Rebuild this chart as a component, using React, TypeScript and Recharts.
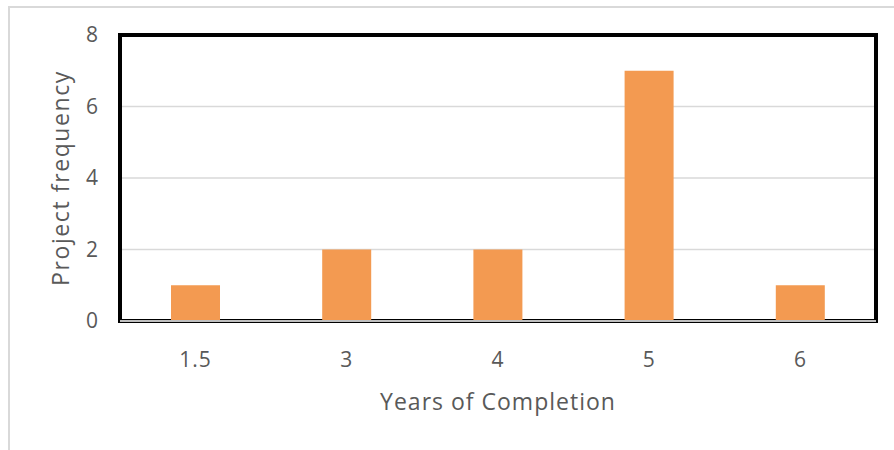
import { BarChart, Bar, XAxis, YAxis, CartesianGrid, ReferenceArea } from 'recharts';

const years = ['1.5', '3', '4', '5', '6'];
const projects = [1, 2, 2, 7, 1];
const yTicks = [0, 2, 4, 6, 8];

const data = years.map((y, i) => ({ year: y, count: projects[i] }));

const FONT = '"Open Sans", Lato, sans-serif';
const TEXT = '#595959';

export default function App() {
  return (
    <div
      style={{
        position: 'absolute',
        left: 0,
        top: 0,
        width: 894,
        height: 450,
        background: '#fff',
        fontFamily: FONT,
      }}
    >
      <div
        style={{
          position: 'absolute',
          left: 8,
          top: 6,
          width: 900,
          height: 460,
          borderLeft: '2px solid #d9d9d9',
          borderTop: '2px solid #d9d9d9',
        }}
      />
      <BarChart
        width={894}
        height={450}
        data={data}
        margin={{ top: 35, right: 18, bottom: 40, left: 60 }}
        style={{ position: 'absolute', left: 0, top: 0 }}
      >
        <CartesianGrid vertical={false} stroke="#d9d9d9" strokeWidth={1.5} />
        <XAxis
          dataKey="year"
          tickLine={false}
          axisLine={{ stroke: '#bfbfbf', strokeWidth: 2 }}
          tick={{ fill: TEXT, fontSize: 21, fontFamily: FONT, letterSpacing: 1 }}
          tickMargin={25}
          height={89}
          label={{
            value: 'Years of Completion',
            position: 'insideBottom',
            offset: 0,
            fill: TEXT,
            fontSize: 23,
            fontFamily: FONT,
            letterSpacing: 1,
          }}
        />
        <YAxis
          domain={[0, 8]}
          ticks={yTicks}
          tickLine={false}
          axisLine={false}
          width={60}
          tick={{ fill: TEXT, fontSize: 21, fontFamily: FONT }}
          tickMargin={16}
          label={{
            value: 'Project frequency',
            angle: -90,
            position: 'insideLeft',
            offset: 1,
            style: { textAnchor: 'middle' },
            fill: TEXT,
            fontSize: 23,
            fontFamily: FONT,
            letterSpacing: 1.6,
          }}
        />
        <Bar dataKey="count" fill="#F39A51" barSize={49} isAnimationActive={false} />
        <ReferenceArea y1={0} y2={8} fill="none" stroke="#000" strokeWidth={4} ifOverflow="visible" />
      </BarChart>
    </div>
  );
}
